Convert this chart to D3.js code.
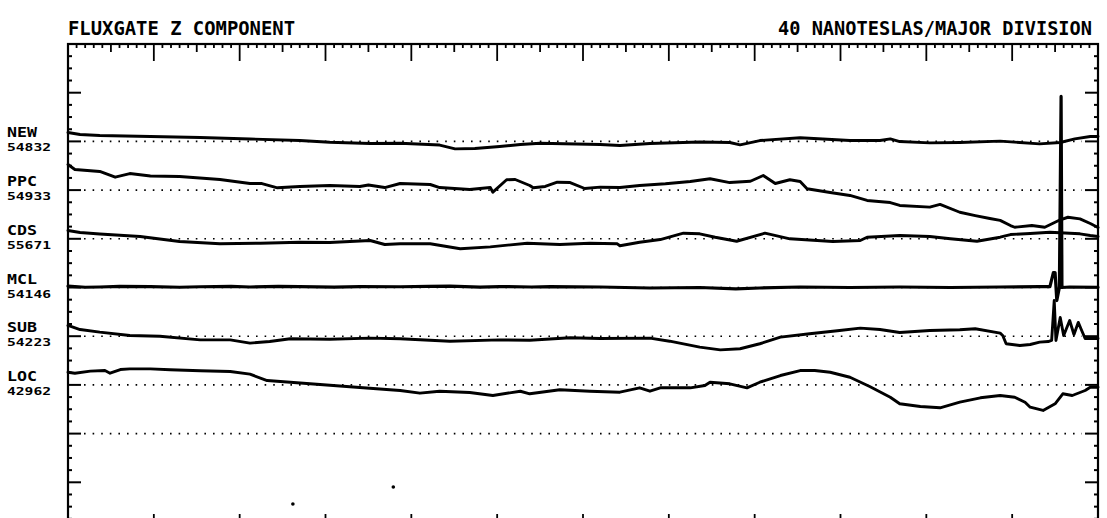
<!DOCTYPE html>
<html>
<head>
<meta charset="utf-8">
<script src="https://cdn.jsdelivr.net/npm/d3@7"></script>
<style>
  html, body { margin: 0; padding: 0; background: #fff; }
  svg { display: block; }
  text { font-family: "DejaVu Sans Mono", "Liberation Mono", monospace; fill: #000; font-weight: bold; }
</style>
</head>
<body>
<svg id="chart" width="1107" height="518"></svg>
<script>
// ---- data ----
const titleLeft = "FLUXGATE Z COMPONENT";
const titleRight = "40 NANOTESLAS/MAJOR DIVISION";

const stations = ["NEW", "PPC", "CDS", "MCL", "SUB", "LOC"];
const stationValues = ["54832", "54933", "55671", "54146", "54223", "42962"];
const baselineLevels = [80, 120, 160, 200, 240, 280];   // nT down from top of frame
const extraBaseline = [320];

// [time (major divisions), deviation from baseline (nT)]
const seriesNEW = [[0,7.3],[0.14,5.7],[0.37,4.8],[0.96,4.0],[1.54,3.2],[2.12,2.0],[2.70,0.7],[3.05,-0.7],[3.52,-1.7],[3.87,-1.5],[4.33,-3.0],[4.51,-6.1],[4.74,-5.8],[5.03,-4.2],[5.27,-2.5],[5.50,-1.5],[6.20,-2.5],[6.43,-3.4],[6.78,-1.7],[7.36,-0.5],[7.71,-0.9],[7.83,-2.8],[8.06,0.7],[8.53,3.0],[9.11,0.7],[9.46,0.7],[9.58,2.1],[9.69,-0.1],[10.04,-1.2],[10.39,-0.9],[10.86,0.2],[11.32,-2.0],[11.56,-0.9],[11.73,2.1],[11.91,4.0],[12,4.0]];
const seriesPPC = [[0,21.0],[0.08,16.9],[0.37,15.3],[0.55,10.6],[0.72,13.6],[0.96,11.6],[1.30,11.2],[1.77,8.7],[2.12,5.4],[2.26,5.4],[2.44,1.9],[2.70,3.0],[3.05,3.8],[3.40,3.0],[3.50,4.2],[3.69,2.1],[3.87,5.4],[4.22,4.6],[4.33,2.1],[4.68,0.5],[4.92,2.1],[4.95,-1.7],[5.11,8.5],[5.21,8.7],[5.38,3.8],[5.42,1.9],[5.56,3.0],[5.70,6.5],[5.85,6.2],[6.02,1.3],[6.20,2.4],[6.43,2.1],[6.66,3.8],[6.96,5.2],[7.25,7.1],[7.48,9.3],[7.71,6.2],[7.95,7.3],[8.10,12.0],[8.24,5.4],[8.41,8.5],[8.53,7.1],[8.61,1.1],[8.88,-2.0],[9.11,-4.4],[9.31,-8.5],[9.58,-10.2],[9.69,-12.6],[10.04,-14.0],[10.16,-11.8],[10.39,-18.2],[10.57,-20.9],[10.74,-23.3],[10.86,-24.9],[10.98,-29.1],[11.03,-30.5],[11.23,-29.1],[11.38,-30.5],[11.56,-24.4],[11.65,-22.3],[11.79,-23.6],[11.91,-27.4],[12,-30.7]];
const seriesCDS = [[0,6.8],[0.14,5.2],[0.37,3.9],[0.84,1.9],[1.30,-2.2],[1.77,-4.1],[2.24,-3.6],[2.70,-2.8],[3.05,-3.0],[3.52,-1.4],[3.69,-4.7],[3.87,-4.1],[4.22,-4.1],[4.57,-8.2],[4.92,-6.6],[5.35,-3.6],[5.73,-4.7],[6.08,-3.6],[6.40,-4.1],[6.43,-5.7],[6.66,-2.8],[6.90,-0.6],[7.17,4.6],[7.36,4.1],[7.54,1.3],[7.79,-2.0],[8.12,4.6],[8.41,0],[8.91,-2.2],[9.23,-1.4],[9.31,1.3],[9.69,2.7],[10.04,1.9],[10.28,0],[10.59,-2.0],[10.86,1.3],[10.98,3.5],[11.21,4.4],[11.44,5.4],[11.67,4.6],[11.79,4.1],[11.91,2.7],[12,1.9]];
const seriesMCL = [[0,1.1],[0.20,0.2],[0.37,0.4],[0.60,1.0],[0.96,0.8],[1.30,0.2],[1.54,0.6],[1.90,1.0],[2.12,0.4],[2.45,0.9],[2.70,0.8],[3.10,0.3],[3.40,0.8],[3.87,0.6],[4.20,0.9],[4.45,1.1],[4.80,0.3],[5.03,0.8],[5.40,0.4],[5.62,0.8],[6.20,0.4],[6.78,-0.4],[7.36,0],[7.78,-1.1],[8.06,-0.4],[8.53,0.4],[9.11,0],[9.69,0.4],[10.28,0],[10.86,0.4],[11.32,0.8],[11.44,0.8],[11.48,12.3],[11.50,12.3],[11.52,-10.7],[11.55,0],[11.57,156.9],[11.58,0],[11.67,0.4],[12,0.2]];
const seriesSUB = [[0,8.8],[0.14,5.5],[0.37,3.3],[0.72,0.6],[1.07,0],[1.54,-3.0],[1.89,-3.0],[2.12,-5.7],[2.35,-4.4],[2.59,-2.1],[3.05,-2.5],[3.52,-1.6],[3.87,-2.1],[4.45,-4.1],[5.03,-3.0],[5.38,-3.3],[5.85,-1.3],[6.20,-1.9],[6.78,-1.6],[7.01,-4.1],[7.36,-9.0],[7.60,-11.2],[7.83,-10.3],[8.06,-6.2],[8.30,-0.8],[8.64,2.0],[8.99,4.7],[9.23,6.6],[9.46,5.5],[9.69,3.0],[10.04,4.7],[10.39,5.3],[10.57,6.1],[10.86,2.5],[10.89,0.6],[10.93,-6.2],[11.09,-7.6],[11.21,-6.8],[11.32,-4.9],[11.42,-4.4],[11.46,-3.5],[11.49,29.3],[11.51,-3.5],[11.56,15.4],[11.60,0.6],[11.67,12.9],[11.72,1.4],[11.77,11.3],[11.81,4.7],[11.85,-1.9],[12,-1.9]];
const seriesLOC = [[0,10.4],[0.08,9.6],[0.26,11.3],[0.43,11.8],[0.49,9.6],[0.61,12.6],[0.72,13.2],[0.96,13.2],[1.19,12.4],[1.54,11.6],[1.89,11.0],[2.12,8.8],[2.32,3.6],[2.59,2.2],[2.82,0.9],[3.09,-0.5],[3.40,-2.1],[3.75,-4.0],[3.87,-4.6],[4.10,-6.8],[4.33,-5.2],[4.68,-6.2],[4.95,-8.7],[5.27,-5.2],[5.38,-7.3],[5.73,-4.0],[6.08,-5.2],[6.43,-6.0],[6.66,-2.4],[6.78,-5.2],[6.90,-2.4],[7.25,-2.4],[7.42,-0.5],[7.48,2.2],[7.71,0.9],[7.91,-2.4],[8.06,2.2],[8.30,7.7],[8.53,11.8],[8.70,11.8],[8.88,10.4],[9.11,6.3],[9.34,-1.3],[9.58,-10.1],[9.69,-15.5],[9.93,-17.7],[10.16,-18.8],[10.39,-14.2],[10.63,-10.6],[10.86,-8.7],[11.03,-10.1],[11.15,-14.2],[11.21,-18.3],[11.36,-21.0],[11.50,-15.5],[11.59,-7.3],[11.70,-8.7],[11.85,-4.6],[11.91,-1.9],[12,-1.9]];
const specks = [[2.62,377.8],[3.79,363.9]];

const allSeries = [seriesNEW, seriesPPC, seriesCDS, seriesMCL, seriesSUB, seriesLOC];

// ---- layout ----
const svg = d3.select("#chart");
const frameL = 68, frameR = 1098, frameT = 44, frameB = 531;
const x = d3.scaleLinear().domain([0, 12]).range([frameL, frameR]);
const y = d3.scaleLinear().domain([0, 400]).range([frameT, frameB]);

// frame
svg.append("rect").attr("x", frameL).attr("y", frameT)
  .attr("width", frameR - frameL).attr("height", frameB - frameT)
  .attr("fill", "none").attr("stroke", "#000").attr("stroke-width", 2.2);

// top / bottom ticks
const xTicks = d3.range(0, 120.5, 1).map(d => d / 10);
function xTickLen(t) {
  const r = Math.round(t * 10);
  if (r % 10 === 0) return 17;
  if (r % 5 === 0) return 8;
  return 4;
}
svg.append("g").selectAll("line").data(xTicks).join("line")
  .attr("x1", d => x(d)).attr("x2", d => x(d))
  .attr("y1", frameT).attr("y2", d => frameT + xTickLen(d))
  .attr("stroke", "#000").attr("stroke-width", 1.8);
svg.append("g").selectAll("line").data(xTicks).join("line")
  .attr("x1", d => x(d)).attr("x2", d => x(d))
  .attr("y1", frameB).attr("y2", d => frameB - xTickLen(d))
  .attr("stroke", "#000").attr("stroke-width", 1.8);

// left / right ticks
const yTicks = d3.range(0, 401, 10);
const yTickLen = d => (d % 40 === 0 ? 13 : 4);
svg.append("g").selectAll("line").data(yTicks).join("line")
  .attr("x1", frameL).attr("x2", d => frameL + yTickLen(d))
  .attr("y1", d => y(d)).attr("y2", d => y(d))
  .attr("stroke", "#000").attr("stroke-width", 2);
svg.append("g").selectAll("line").data(yTicks).join("line")
  .attr("x1", frameR).attr("x2", d => frameR - yTickLen(d))
  .attr("y1", d => y(d)).attr("y2", d => y(d))
  .attr("stroke", "#000").attr("stroke-width", 2);

// dotted baselines
svg.append("g").selectAll("line").data(baselineLevels.concat(extraBaseline)).join("line")
  .attr("x1", frameL + 16).attr("x2", frameR - 16)
  .attr("y1", d => y(d)).attr("y2", d => y(d))
  .attr("stroke", "#000").attr("stroke-width", 1.6)
  .attr("stroke-dasharray", "1.6,7");

// traces
const line = d3.line();
allSeries.forEach((s, i) => {
  const b = baselineLevels[i];
  svg.append("path")
    .attr("d", line(s.map(p => [x(p[0]), y(b - p[1])])))
    .attr("fill", "none").attr("stroke", "#000")
    .attr("stroke-width", i === 3 ? 3.2 : 2.9)
    .attr("stroke-linejoin", "round").attr("stroke-linecap", "round");
});

// specks
svg.append("g").selectAll("circle").data(specks).join("circle")
  .attr("cx", d => x(d[0])).attr("cy", d => y(d[1])).attr("r", 1.8).attr("fill", "#000");

// station labels
stations.forEach((name, i) => {
  const yb = y(baselineLevels[i]);
  svg.append("text").attr("x", 7).attr("y", yb - 4)
    .attr("font-size", 14).attr("textLength", 30).attr("lengthAdjust", "spacingAndGlyphs")
    .text(name);
  svg.append("text").attr("x", 7).attr("y", yb + 10)
    .attr("font-size", 11).attr("textLength", 44).attr("lengthAdjust", "spacingAndGlyphs")
    .text(stationValues[i]);
});

// titles
svg.append("text").attr("x", frameL).attr("y", 35)
  .attr("font-size", 19).attr("textLength", 227).attr("lengthAdjust", "spacingAndGlyphs")
  .text(titleLeft);
svg.append("text").attr("x", 1092).attr("y", 35).attr("text-anchor", "end")
  .attr("font-size", 19).attr("textLength", 314).attr("lengthAdjust", "spacingAndGlyphs")
  .text(titleRight);
</script>
</body>
</html>
